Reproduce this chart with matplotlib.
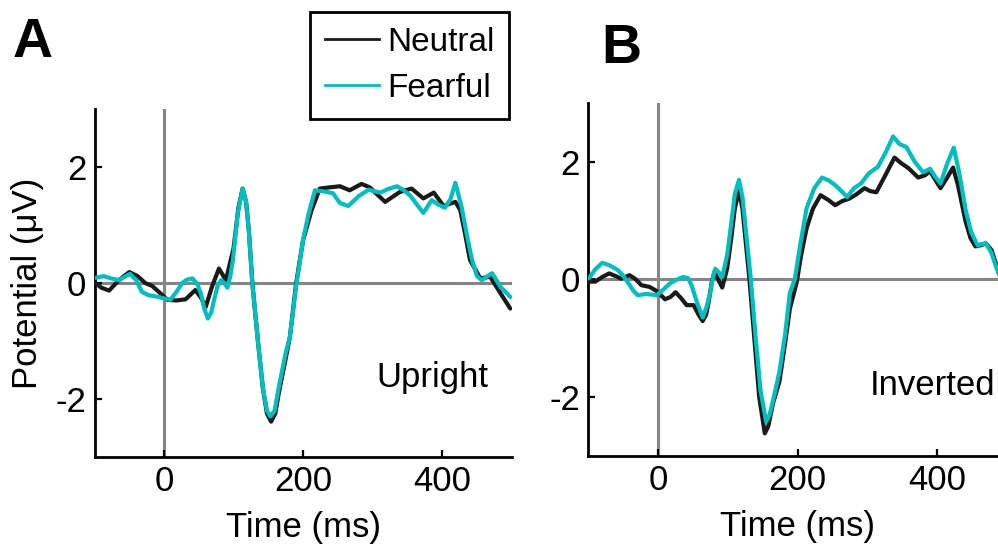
import matplotlib
matplotlib.use("Agg")
import matplotlib.pyplot as plt
from matplotlib.lines import Line2D

plt.rcParams["font.family"] = ["Liberation Sans", "DejaVu Sans"]

NEUTRAL_COLOR = "#1a1a1a"
FEARFUL_COLOR = "#00bfbf"
ZERO_COLOR = "#858585"

# Upright faces (panel A)
up_neutral_t = [-99, -90, -79, -65, -50, -38, -27, -17, -5, 5, 18, 31, 45, 53, 60, 69,
                79, 89, 100, 107, 113, 118, 122, 127, 135, 142, 148, 154, 160, 165, 175,
                181, 190, 200, 212, 224, 238, 253, 267, 284, 296, 318, 339, 356, 373,
                388, 402, 419, 426, 433, 440, 455, 469, 481, 498]
up_neutral_v = [0.0, -0.08, -0.13, 0.05, 0.19, 0.12, 0.0, -0.05, -0.18, -0.29, -0.30, -0.28,
                -0.12, -0.25, -0.41, -0.06, 0.25, 0.05, 0.6, 1.3, 1.63, 1.4, 0.9, 0.0, -1.0,
                -1.8, -2.25, -2.39, -2.25, -1.9, -1.3, -0.93, 0.0, 0.74, 1.25, 1.63, 1.65,
                1.67, 1.60, 1.71, 1.65, 1.40, 1.57, 1.63, 1.46, 1.56, 1.33, 1.40, 1.26, 0.85,
                0.40, 0.08, 0.11, -0.12, -0.44]

up_fearful_t = [-99, -87, -76, -65, -49, -40, -32, -22, -8, 9, 18, 26, 33, 41, 48, 53, 58,
                63, 68, 72, 77, 82, 87, 91, 95, 99, 106, 113, 118, 122, 127, 135, 142, 148,
                153, 159, 165, 175, 181, 190, 200, 208, 217, 230, 243, 253, 265, 280, 294,
                311, 322, 335, 345, 354, 364, 373, 385, 395, 404, 412, 419, 428, 436, 443,
                450, 457, 465, 472, 478, 484, 491, 498]
up_fearful_v = [0.09, 0.12, 0.08, 0.05, 0.16, 0.05, -0.15, -0.21, -0.24, -0.29, -0.15, 0.0,
                0.06, 0.08, -0.02, -0.18, -0.45, -0.61, -0.5, -0.29, -0.05, 0.05, 0.0, -0.08,
                0.1, 0.39, 1.2, 1.63, 1.4, 0.9, 0.0, -1.0, -1.8, -2.2, -2.3, -2.2, -1.8, -1.2,
                -0.93, -0.05, 0.75, 1.2, 1.60, 1.58, 1.55, 1.38, 1.33, 1.5, 1.61, 1.56, 1.62,
                1.67, 1.6, 1.51, 1.35, 1.21, 1.43, 1.35, 1.30, 1.45, 1.73, 1.31, 0.8, 0.40,
                0.12, 0.05, 0.12, 0.17, 0.05, -0.07, -0.15, -0.24]

# Inverted faces (panel B)
inv_neutral_t = [-99, -90, -80, -70, -60, -53, -41, -32, -24, -12, -2, 10, 18, 25, 33, 41,
                 51, 58, 64, 69, 73, 77, 81, 86, 92, 99, 105, 110, 116, 121, 126, 131, 138,
                 145, 153, 158, 165, 174, 182, 189, 199, 205, 213, 222, 233, 244, 254, 264,
                 274, 285, 296, 304, 313, 325, 339, 348, 359, 373, 383, 390, 397, 405, 413,
                 423, 430, 441, 448, 455, 463, 470, 478, 485, 491]
inv_neutral_v = [-0.04, -0.04, 0.04, 0.10, 0.05, 0.01, 0.07, 0.0, -0.10, -0.13, -0.2, -0.34,
                 -0.3, -0.22, -0.32, -0.44, -0.44, -0.6, -0.71, -0.6, -0.35, -0.05, 0.13, 0.0,
                 -0.14, 0.18, 0.7, 1.2, 1.52, 1.2, 0.6, 0.0, -1.0, -2.0, -2.62, -2.5, -2.1,
                 -1.74, -1.1, -0.5, -0.04, 0.4, 0.87, 1.2, 1.43, 1.35, 1.26, 1.33, 1.37, 1.45,
                 1.55, 1.5, 1.48, 1.75, 2.07, 1.98, 1.89, 1.73, 1.77, 1.84, 1.7, 1.55, 1.7,
                 1.90, 1.6, 0.98, 0.7, 0.56, 0.58, 0.61, 0.5, 0.25, 0.0]

inv_fearful_t = [-99, -90, -80, -70, -58, -50, -44, -35, -29, -17, -2, 8, 17, 26, 36, 43,
                 48, 56, 64, 70, 75, 79, 82, 87, 92, 99, 105, 110, 116, 121, 127, 133, 140,
                 147, 155, 160, 167, 174, 182, 189, 196, 204, 213, 224, 235, 245, 254, 263,
                 271, 281, 291, 302, 315, 326, 337, 346, 356, 368, 380, 390, 397, 405, 414,
                 424, 432, 441, 449, 458, 464, 470, 478, 485, 491]
inv_fearful_v = [0.02, 0.17, 0.28, 0.24, 0.16, 0.06, -0.04, -0.2, -0.27, -0.25, -0.27, -0.17,
                 -0.07, -0.01, 0.04, 0.02, -0.10, -0.4, -0.65, -0.45, -0.21, 0.05, 0.18, 0.12,
                 0.04, 0.41, 0.95, 1.45, 1.69, 1.4, 0.7, 0.0, -1.0, -1.9, -2.42, -2.3, -1.95,
                 -1.57, -0.95, -0.23, 0.0, 0.6, 1.21, 1.55, 1.73, 1.68, 1.60, 1.5, 1.40, 1.55,
                 1.63, 1.8, 1.91, 2.15, 2.43, 2.3, 2.25, 2.0, 1.82, 1.88, 1.75, 1.63, 1.95,
                 2.24, 1.8, 1.18, 0.8, 0.58, 0.6, 0.61, 0.45, 0.2, 0.02]

x_ticks = [0, 200, 400]
y_ticks = [-2, 0, 2]
y_tick_labels = ["-2", "0", "2"]

FS = 25

fig = plt.figure(figsize=(9.98, 5.47), dpi=100)
ax1 = fig.add_axes([0.0947, 0.1645, 0.418, 0.636])
ax2 = fig.add_axes([0.5895, 0.1669, 0.4193, 0.645])


def style_axis(ax):
    ax.axhline(0, color=ZERO_COLOR, lw=2.2, zorder=1)
    ax.axvline(0, color=ZERO_COLOR, lw=2.2, zorder=1)
    ax.set_xlim(-100, 500)
    ax.set_ylim(-3, 3)
    for side in ("top", "right"):
        ax.spines[side].set_visible(False)
    for side in ("left", "bottom"):
        ax.spines[side].set_linewidth(2.0)
    ax.set_xticks(x_ticks)
    ax.set_yticks(y_ticks)
    ax.set_yticklabels(y_tick_labels)
    ax.tick_params(direction="in", length=5, width=1.6, labelsize=FS, pad=6)
    ax.set_xlabel("Time (ms)", fontsize=FS, labelpad=9)
    ax.patch.set_visible(False)


for ax, tn, vn, tf, vf in [
    (ax1, up_neutral_t, up_neutral_v, up_fearful_t, up_fearful_v),
    (ax2, inv_neutral_t, inv_neutral_v, inv_fearful_t, inv_fearful_v),
]:
    style_axis(ax)
    ax.plot(tn, vn, color=NEUTRAL_COLOR, lw=3.0, zorder=3,
            solid_capstyle="round", solid_joinstyle="round")
    ax.plot(tf, vf, color=FEARFUL_COLOR, lw=3.0, zorder=4,
            solid_capstyle="round", solid_joinstyle="round")

ax1.set_ylabel("Potential (\u03bcV)", fontsize=FS, labelpad=8)

ax1.text(466, -1.79, "Upright", fontsize=FS, ha="right", va="baseline")
ax2.text(483, -1.97, "Inverted", fontsize=FS, ha="right", va="baseline")

fig.text(0.033, 0.922, "A", fontsize=40, fontweight="bold", ha="center", va="center")
fig.text(0.623, 0.910, "B", fontsize=40, fontweight="bold", ha="center", va="center")

handles = [Line2D([], [], color=NEUTRAL_COLOR, lw=2.0),
           Line2D([], [], color=FEARFUL_COLOR, lw=2.0)]
leg = fig.legend(handles, ["Neutral", "Fearful"], loc="upper left",
                 bbox_to_anchor=(0.311, 0.978), fontsize=24, frameon=True,
                 fancybox=False, framealpha=1, edgecolor="black",
                 handlelength=1.6, handletextpad=0.25, borderpad=0.45,
                 labelspacing=0.45, borderaxespad=0)
leg.get_frame().set_linewidth(2.0)

fig.savefig("out.png", dpi=100)
